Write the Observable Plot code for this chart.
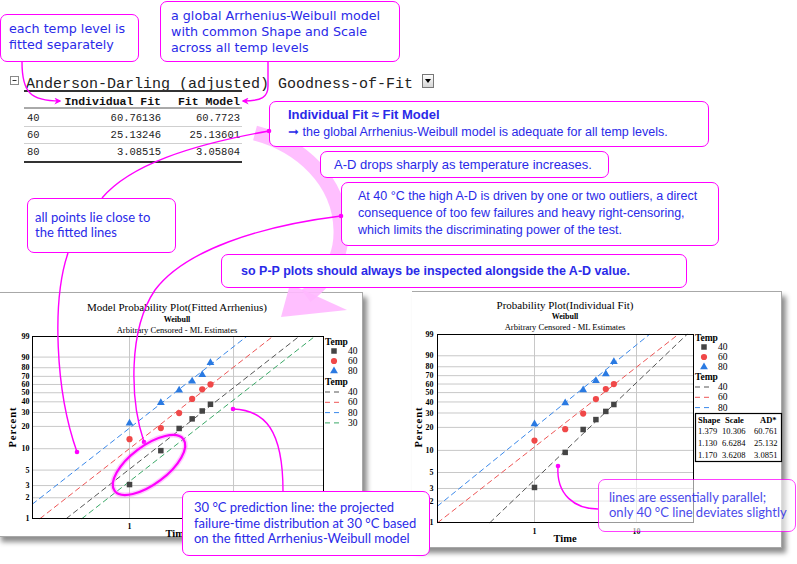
<!DOCTYPE html>
<html><head><meta charset="utf-8">
<script src="https://cdn.jsdelivr.net/npm/d3@7"></script>
<script src="https://cdn.jsdelivr.net/npm/@observablehq/plot@0.6"></script>
<style>
html,body{margin:0;padding:0;background:#fff;}
#page{position:relative;width:797px;height:564px;overflow:hidden;background:#fff;}
.box{position:absolute;box-sizing:border-box;border:1.5px solid #ff00ff;border-radius:7px;background:#fff;z-index:4;}
.txt{position:absolute;color:#2a2ae8;white-space:nowrap;z-index:5;}
.panel{position:absolute;box-sizing:border-box;background:#fff;z-index:1;}
</style></head>
<body><div id="page"></div>
<script>
// ---------------- data ----------------
const tempLevels = ["40", "60", "80"];
const failTimes = [1, 2, 3, 4, 5, 6];
const pct40 = [3.1, 9.4, 18.8, 25.0, 31.3, 37.5];
const pct60 = [13.5, 19.0, 29.5, 43.0, 54.0, 60.0];
const pct80 = [22.0, 39.0, 53.0, 64.0, 72.0, 85.0];
const modelLevels = ["40", "60", "80", "30"];
const modelShape = 1.19;
const modelScale = [11.8, 6.6, 3.7, 16.7];
const indShape = [1.379, 1.130, 1.170];
const indScale = [10.306, 6.6284, 3.6208];
const indAD = [60.761, 25.132, 3.0851];
const adRows = ["40", "60", "80"];
const adIndividual = ["60.76136", "25.13246", "3.08515"];
const adModel = ["60.7723", "25.13601", "3.05804"];
const adHeader = ["Individual Fit", "Fit Model"];
const adTitle = "Anderson-Darling (adjusted) Goodness-of-Fit";
const yTicks = [1, 2, 3, 5, 10, 20, 30, 40, 50, 60, 70, 80, 90, 99];
const xTicks = [1, 10];
const leftXLabels = [1];      // the "10" label of the left plot is covered by a callout
const rightXLabels = [1, 10];
const leftTitles = ["Model Probability Plot(Fitted Arrhenius)", "Weibull", "Arbitrary Censored - ML Estimates"];
const rightTitles = ["Probability Plot(Individual Fit)", "Weibull", "Arbitrary Censored - ML Estimates"];
const tableHeader = ["Shape", "Scale", "AD*"];

// ---------------- styles ----------------
const gridColor = "#c8c8c8";
const pointStyle = {
  "40": {fill: "#444444", symbol: "square", d3sym: d3.symbolSquare, r: 3.1},
  "60": {fill: "#f04848", symbol: "circle", d3sym: d3.symbolCircle, r: 3.1},
  "80": {fill: "#2a7ae2", symbol: "triangle", d3sym: d3.symbolTriangle, r: 2.9}
};
const lineColor = {"40": "#555555", "60": "#ee5555", "80": "#3a88ea", "30": "#3aa866"};
const serif = "'Liberation Serif', 'DejaVu Serif', serif";

const W = p => Math.log(-Math.log(1 - p / 100));
const Winv = v => 100 * (1 - Math.exp(-Math.exp(v)));
const pctByLevel = [pct40, pct60, pct80];

function fitLine(shape, scale, xd) {
  const y0 = W(yTicks[0]), y1 = W(yTicks[yTicks.length - 1]);
  const ta = Math.max(xd[0], scale * Math.exp(y0 / shape));
  const tb = Math.min(xd[1], scale * Math.exp(y1 / shape));
  return [ta, tb].map(t => ({t, y: shape * Math.log(t / scale)}));
}

function probPlot(cfg) {
  const pts = [];
  tempLevels.forEach((lv, i) => failTimes.forEach((t, j) => pts.push({lv, t, y: W(pctByLevel[i][j])})));
  const marks = [
    Plot.gridX(xTicks, {stroke: gridColor, strokeOpacity: 1}),
    Plot.gridY(yTicks.map(W), {stroke: gridColor, strokeOpacity: 1}),
    Plot.axisY(yTicks.map(W), {tickSize: 0, tickPadding: cfg.yPad, tickFormat: d => String(Math.round(Winv(d))), fontWeight: "bold", fontSize: 8, label: null}),
    Plot.axisX(cfg.xLabels, {tickSize: 0, tickPadding: cfg.xPad, tickFormat: d => String(d), fontWeight: "bold", fontSize: 8, label: null})
  ];
  cfg.lines.forEach(L => marks.push(Plot.line(fitLine(L.shape, L.scale, cfg.xDomain), {x: "t", y: "y", stroke: lineColor[L.lv], strokeWidth: 1, strokeDasharray: "5,4"})));
  tempLevels.forEach(lv => marks.push(Plot.dot(pts.filter(d => d.lv === lv), {x: "t", y: "y", symbol: pointStyle[lv].symbol, r: pointStyle[lv].r, fill: pointStyle[lv].fill})));
  marks.push(Plot.frame({stroke: "#000"}));
  const svg = Plot.plot({
    width: cfg.width, height: cfg.height,
    marginLeft: cfg.m[0], marginRight: cfg.m[1], marginTop: cfg.m[2], marginBottom: cfg.m[3],
    x: {type: "log", domain: cfg.xDomain},
    y: {type: "linear", domain: [W(yTicks[0]), W(yTicks[yTicks.length - 1])]},
    style: {fontFamily: serif, fontSize: "8px", background: "transparent", overflow: "visible", color: "#000"},
    marks
  });
  decorate(svg, cfg);
  const holder = document.createElement("div");
  holder.style.cssText = `position:absolute;left:${cfg.left}px;top:${cfg.top}px;z-index:2;`;
  holder.appendChild(svg);
  document.getElementById("page").appendChild(holder);
  return svg;
}

function decorate(svg, cfg) {
  const s = d3.select(svg);
  const tx = (x, y, t, size, weight, anchor, extra) => {
    const e = s.append("text").attr("x", x).attr("y", y).attr("text-anchor", anchor || "start")
      .attr("dominant-baseline", "central").style("font-family", serif).style("font-size", size + "px")
      .style("font-weight", weight || "normal").attr("fill", "#000").text(t);
    if (extra) extra(e);
    return e;
  };
  const c = cfg.deco;
  tx(c.cx, c.ty[0], cfg.titles[0], 11, "normal", "middle");
  tx(c.cx, c.ty[1], cfg.titles[1], 8, "bold", "middle");
  tx(c.cx, c.ty[2], cfg.titles[2], 8.5, "normal", "middle");
  tx(c.px, c.py, "Percent", 10.5, "bold", "middle", e => e.attr("transform", `rotate(-90 ${c.px} ${c.py})`).style("letter-spacing", "1px"));
  tx(c.cx, c.timeY, "Time", 10.5, "bold", "middle");
  // legend: points
  tx(c.lx, c.legY[0], "Temp", 9.5, "bold");
  tempLevels.forEach((lv, i) => {
    const st = pointStyle[lv];
    s.append("path").attr("d", d3.symbol().type(st.d3sym).size(st.r * st.r * Math.PI)())
      .attr("transform", `translate(${c.symX},${c.legY[1] + i * 10})`).attr("fill", st.fill);
    tx(c.labX, c.legY[1] + i * 10, lv, 9.5, "normal");
  });
  tx(c.lx, c.legY[2], "Temp", 9.5, "bold");
  cfg.lines.forEach((L, i) => {
    const y = c.legY[3] + i * 10.3;
    s.append("line").attr("x1", c.lx).attr("x2", c.lx + 17).attr("y1", y).attr("y2", y)
      .attr("stroke", lineColor[L.lv]).attr("stroke-dasharray", "5,4");
    tx(c.labX, y, L.lv, 9.5, "normal");
  });
  if (c.table) {
    const T = c.table;
    s.append("rect").attr("x", T.x + 0.5).attr("y", T.y + 0.5).attr("width", T.w).attr("height", T.h)
      .attr("fill", "#fff").attr("stroke", "#000").attr("stroke-width", 1.2);
    tableHeader.forEach((h, k) => tx(T.hx[k], T.y + 7, h, 8.5, "bold"));
    indShape.forEach((sh, i) => {
      const y = T.y + 18 + i * 12;
      tx(T.cx[0], y, sh.toPrecision(4), 8.5, "normal");
      tx(T.cx[1], y, indScale[i].toPrecision(5), 8.5, "normal");
      tx(T.cx[2], y, indAD[i].toPrecision(5), 8.5, "normal");
    });
  }
}

const page = document.getElementById("page");
function addDiv(cls, css, html) {
  const d = document.createElement("div");
  d.className = cls; d.style.cssText = css; if (html) d.innerHTML = html;
  page.appendChild(d); return d;
}

// panels
addDiv("panel", "left:-3px;top:292px;width:366px;height:245px;border:1px solid #a8a8a8;box-shadow:4px 5px 5px rgba(0,0,0,0.45);");
addDiv("panel", "left:412px;top:291px;width:370px;height:257px;border:1px solid #a8a8a8;border-left:none;box-shadow:4px 5px 5px rgba(0,0,0,0.45);");

// left chart (model)
probPlot({
  left: 0, top: 292, width: 363, height: 248, m: [32, 40, 44, 22],
  xDomain: [0.1167, 73.3], yPad: 3, xPad: 5, xLabels: leftXLabels,
  lines: modelLevels.map((lv, i) => ({lv, shape: modelShape, scale: modelScale[i]})),
  titles: leftTitles,
  deco: {cx: 177, ty: [15, 27, 38], px: 12, py: 135, timeY: 241, lx: 325, symX: 334, labX: 348, legY: [50, 59, 90, 100]}
});
// right chart (individual)
probPlot({
  left: 412, top: 291, width: 370, height: 257, m: [25, 89, 43, 26],
  xDomain: [0.112, 36.2], yPad: 4, xPad: 6, xLabels: rightXLabels,
  lines: tempLevels.map((lv, i) => ({lv, shape: indShape[i], scale: indScale[i]})),
  titles: rightTitles,
  deco: {cx: 153, ty: [14, 25, 36], px: 6, py: 136, timeY: 247, lx: 283, symX: 292, labX: 306, legY: [47, 56, 86, 96],
         table: {x: 283, y: 122, w: 86, h: 48, hx: [286, 313, 348], cx: [286, 310, 342]}}
});

// ------------- AD table (svg) -------------
const tsvg = d3.select(page).append("svg").attr("width", 797).attr("height", 564)
  .style("position", "absolute").style("left", 0).style("top", 0).style("z-index", 2);
const mono = "'Liberation Mono', 'DejaVu Sans Mono', monospace";
tsvg.append("rect").attr("x", 10.5).attr("y", 76.5).attr("width", 8).attr("height", 8).attr("fill", "#fff").attr("stroke", "#8a8a8a");
tsvg.append("line").attr("x1", 12.5).attr("x2", 16.5).attr("y1", 80.5).attr("y2", 80.5).attr("stroke", "#333");
tsvg.append("text").attr("x", 26).attr("y", 87.5).style("font-family", mono).style("font-size", "15px").attr("fill", "#222").text(adTitle);
const grad = tsvg.append("defs").append("linearGradient").attr("id", "dd").attr("x1", 0).attr("x2", 0).attr("y1", 0).attr("y2", 1);
grad.append("stop").attr("offset", 0).attr("stop-color", "#fff");
grad.append("stop").attr("offset", 1).attr("stop-color", "#d4d4d4");
tsvg.append("rect").attr("x", 422.5).attr("y", 74.5).attr("width", 11).attr("height", 13).attr("fill", "url(#dd)").attr("stroke", "#777");
tsvg.append("path").attr("d", "M425,79 L431,79 L428,83 Z").attr("fill", "#000");
const hl = (y, w, c) => tsvg.append("line").attr("x1", 24).attr("x2", 242).attr("y1", y).attr("y2", y).attr("stroke", c).attr("stroke-width", w);
hl(91, 2, "#333"); hl(108, 1, "#555"); hl(126.5, 1, "#cfcfcf"); hl(143.5, 1, "#cfcfcf"); hl(162, 2, "#333");
const colEnd = [161, 240];
adHeader.forEach((h, k) => tsvg.append("text").attr("x", colEnd[k]).attr("y", 104.5).attr("text-anchor", "end")
  .style("font-family", mono).style("font-size", "11.5px").style("font-weight", "bold").attr("fill", "#111").text(h));
adRows.forEach((r, i) => {
  const y = 121 + i * 17.2;
  const t = (x, a, s) => tsvg.append("text").attr("x", x).attr("y", y).attr("text-anchor", a)
    .style("font-family", mono).style("font-size", "10.5px").attr("fill", "#222").text(s);
  t(27, "start", r); t(colEnd[0], "end", adIndividual[i]); t(colEnd[1], "end", adModel[i]);
});

// ------------- pink big arrow -------------
const psvg = d3.select(page).append("svg").attr("width", 797).attr("height", 564)
  .style("position", "absolute").style("left", 0).style("top", 0).style("z-index", 3);
psvg.append("path").attr("d", "M255,133 C300,145 340,180 341,230 C342,262 325,282 306,296")
  .attr("fill", "none").attr("stroke", "#ffb8ff").attr("stroke-width", 15).attr("opacity", 0.9);
psvg.append("path").attr("d", "M281,317 L290,284 L347,310 Z").attr("fill", "#ffb8ff").attr("opacity", 0.9);

// ------------- callouts -------------
const sans = "'Liberation Sans', Arial, sans-serif";
const dv = "'DejaVu Sans', Verdana, sans-serif";
const lato = "Lato, 'Open Sans', sans-serif";
function callout(b, t) {
  const box = addDiv("box", `left:${b[0]}px;top:${b[1]}px;width:${b[2]}px;height:${b[3]}px;` + (t.boxCss || ""));
  const tx = addDiv("txt", `left:${t.x}px;top:${t.y}px;font-family:${t.font};font-size:${t.size}px;line-height:${t.lh}px;` + (t.css || ""), t.html);
  return [box, tx];
}
callout([0, 14, 139, 48], {x: 9, y: 21, font: dv, size: 12.7, lh: 16, html: "each temp level is<br>fitted separately"});
callout([160, 1, 240, 61], {x: 171, y: 7.7, font: dv, size: 12.7, lh: 16, html: "a global Arrhenius-Weibull model<br>with common Shape and Scale<br>across all temp levels"});
callout([269, 101, 440, 46], {x: 288, y: 105.5, font: sans, size: 12.5, lh: 17.4, html: "<b style='font-size:13px'>Individual Fit ≈ Fit Model</b><br>➞ the global Arrhenius-Weibull model is adequate for all temp levels."});
callout([320, 151, 289, 27], {x: 334, y: 156.5, font: sans, size: 13, lh: 16, html: "A-D drops sharply as temperature increases."});
callout([341, 182, 378, 64], {x: 358, y: 187.5, font: sans, size: 12.5, lh: 17, html: "At 40 °C the high A-D is driven by one or two outliers, a direct<br>consequence of too few failures and heavy right-censoring,<br>which limits the discriminating power of the test."});
callout([221, 254, 466, 34], {x: 241, y: 263, font: sans, size: 12.5, lh: 16, css: "font-weight:bold;", html: "so P-P plots should always be inspected alongside the A-D value."});
callout([27, 198, 149, 55], {x: 35, y: 209.5, font: lato, size: 13, lh: 15, html: "all points lie close to<br>the fitted lines"});
callout([182, 491, 248, 65], {x: 194, y: 500, font: lato, size: 13, lh: 15.7, html: "30 °C prediction line: the projected<br>failure-time distribution at 30 °C based<br>on the fitted Arrhenius-Weibull model"});
callout([598, 479, 198, 53], {x: 609, y: 489.5, font: lato, size: 13, lh: 15, boxCss: "opacity:0.75;background:rgba(255,255,255,0.8);", css: "opacity:0.85;", html: "lines are essentially parallel;<br>only 40 °C line deviates slightly"});

// ------------- connectors -------------
const csvg = d3.select(page).append("svg").attr("width", 797).attr("height", 564)
  .style("position", "absolute").style("left", 0).style("top", 0).style("z-index", 6);
const mk = csvg.append("defs").append("marker").attr("id", "ah").attr("viewBox", "0 0 10 10")
  .attr("refX", 8).attr("refY", 5).attr("markerWidth", 7).attr("markerHeight", 7).attr("orient", "auto-start-reverse")
  .attr("markerUnits", "userSpaceOnUse");
mk.append("path").attr("d", "M0,0 L10,5 L0,10 L3,5 Z").attr("fill", "#ff00ff");
const con = (d, arrow) => {
  const p = csvg.append("path").attr("d", d).attr("fill", "none").attr("stroke", "#ff00ff").attr("stroke-width", 1.4);
  if (arrow) p.attr("marker-end", "url(#ah)");
};
const dot = (x, y) => csvg.append("circle").attr("cx", x).attr("cy", y).attr("r", 2.3).attr("fill", "#ff00ff");
con("M22,62 C22,92 30,101 60,101", true);
con("M268,62 L268,86 C268,97 262,101 243,101", true);
con("M269,131 C190,145 130,165 102,198");
dot(269, 131);
con("M68,253 C52,300 55,390 77,452"); dot(77, 452);
con("M341,216 C260,226 185,250 155,290 C128,330 130,400 144,442"); dot(144, 442); dot(341, 216);
con("M233,409 C265,410 283,430 283,491"); dot(233, 409);
con("M558,466 C556,495 575,509 598,509"); dot(558, 466);
// highlight ellipse
csvg.append("ellipse").attr("cx", 149).attr("cy", 465).attr("rx", 43).attr("ry", 19)
  .attr("transform", "rotate(-37 149 465)").attr("fill", "none").attr("stroke", "#ff66ff").attr("stroke-width", 5).attr("opacity", 0.35);
csvg.append("ellipse").attr("cx", 149).attr("cy", 465).attr("rx", 43).attr("ry", 19)
  .attr("transform", "rotate(-37 149 465)").attr("fill", "none").attr("stroke", "#ff00ff").attr("stroke-width", 2.2);
</script></body></html>
